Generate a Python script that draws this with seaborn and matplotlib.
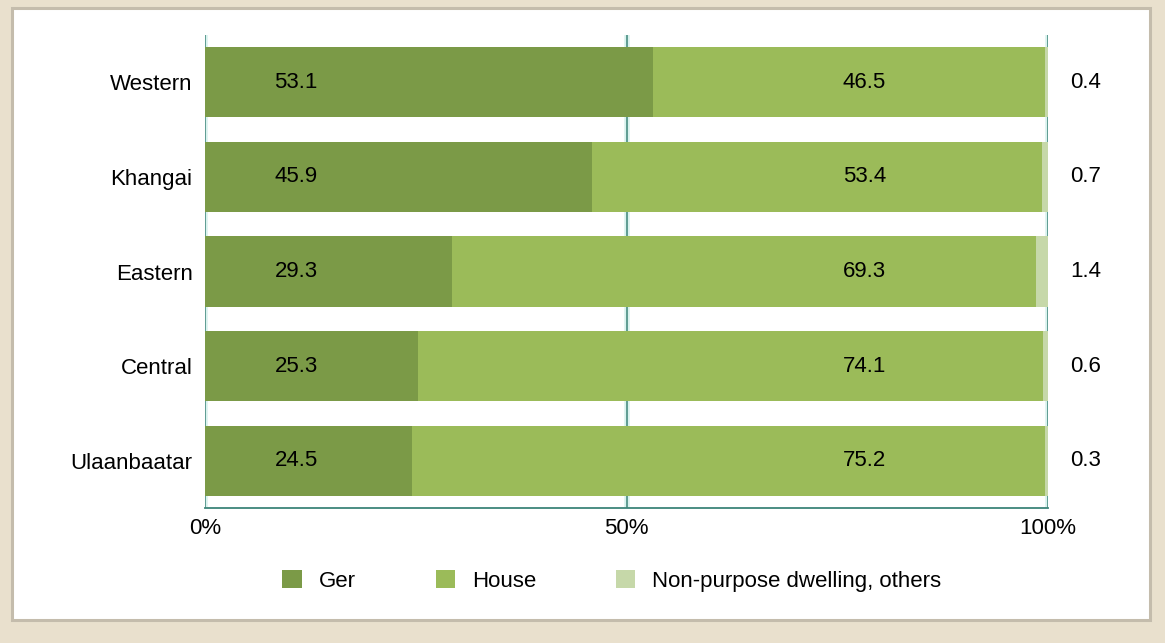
import matplotlib
matplotlib.use("Agg")
import matplotlib.pyplot as plt
from matplotlib.patches import Patch, Rectangle
import seaborn as sns
import pandas as pd

regions = ["Western", "Khangai", "Eastern", "Central", "Ulaanbaatar"]
ger = [53.1, 45.9, 29.3, 25.3, 24.5]
house = [46.5, 53.4, 69.3, 74.1, 75.2]
other = [0.4, 0.7, 1.4, 0.6, 0.3]
series_names = ["Ger", "House", "Non-purpose dwelling, others"]
tick_labels = ["0%", "50%", "100%"]
ticks = [0, 50, 100]

colors = ["#7b9a47", "#9bbb59", "#c6d8a9"]
FS = 16

sns.set_theme(style="white")
plt.rcParams["font.family"] = ["Liberation Sans", "DejaVu Sans"]
plt.rcParams["text.color"] = "black"
plt.rcParams["xtick.color"] = "black"
plt.rcParams["ytick.color"] = "black"

df = pd.DataFrame({"region": regions, "ger": ger, "house": house, "other": other})
df["c1"] = df["ger"]
df["c2"] = df["ger"] + df["house"]
df["c3"] = df["ger"] + df["house"] + df["other"]

fig = plt.figure(figsize=(11.65, 6.43), dpi=100)
fig.patch.set_facecolor("#e9e0cd")
panel = Rectangle((12 / 1165, 1 - 620 / 643), (1150 - 12) / 1165, (620 - 8) / 643,
                  transform=fig.transFigure, facecolor="white", edgecolor="#c4bcac",
                  linewidth=2.2, zorder=-10)
fig.patches.append(panel)

ax = fig.add_axes([205 / 1165, 1 - 508 / 643, (1048 - 205) / 1165, (508 - 35) / 643])
ax.set_facecolor("none")
ax.set_zorder(5)

for col, c in zip(["c3", "c2", "c1"], colors[::-1]):
    sns.barplot(data=df, x=col, y="region", orient="h", color=c, width=0.74,
                saturation=1, ax=ax, zorder=2, linewidth=0, edgecolor="none")

ax.set_xlim(0, 100)
ax.set_ylim(4.5, -0.5)
for t in ticks:
    ax.axvline(t, color="#d9f2ee", lw=4, zorder=1)
    ax.axvline(t, color="#3d8579", lw=1.1, zorder=1)
for s in ["top", "right", "left"]:
    ax.spines[s].set_visible(False)
ax.spines["bottom"].set_color("#3d8579")
ax.spines["bottom"].set_linewidth(1.3)

ax.set_xticks(ticks)
ax.set_xticklabels(tick_labels, fontsize=FS)
ax.tick_params(axis="x", length=0, pad=7)
ax.tick_params(axis="y", length=0, pad=9, labelsize=FS)
ax.set_xlabel("")
ax.set_ylabel("")

for i in range(len(regions)):
    ax.text(10.8, i, f"{ger[i]:.1f}", ha="center", va="center", fontsize=FS, zorder=3)
    ax.text(78.2, i, f"{house[i]:.1f}", ha="center", va="center", fontsize=FS, zorder=3)
    ax.text(104.5, i, f"{other[i]:.1f}", ha="center", va="center", fontsize=FS,
            zorder=3, clip_on=False)

handles = [Patch(facecolor=c, edgecolor="none") for c in colors]
fig.legend(handles, series_names, loc="center", bbox_to_anchor=(612 / 1165, 1 - 581 / 643),
           ncol=3, frameon=False, fontsize=FS, handlelength=0.86, handleheight=0.86,
           handletextpad=0.77, columnspacing=3.6)

fig.savefig("out.png", dpi=100, facecolor=fig.get_facecolor())
